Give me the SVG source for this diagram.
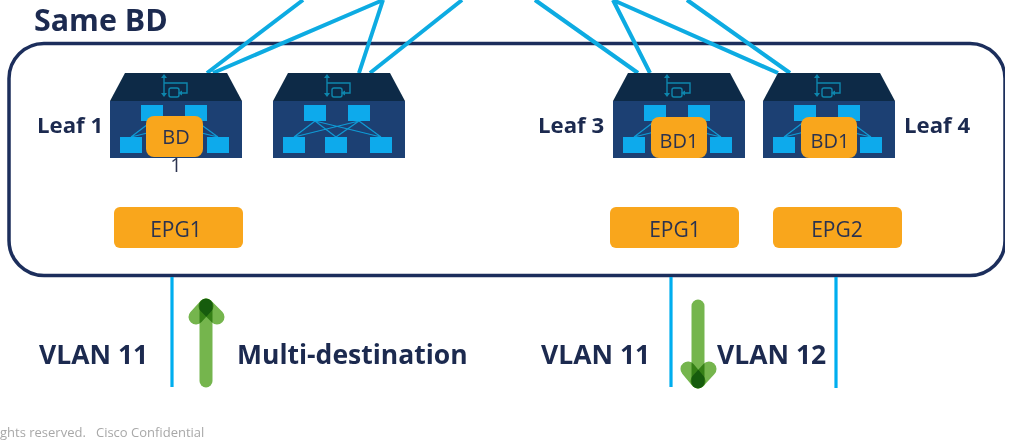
<svg xmlns="http://www.w3.org/2000/svg" width="1015" height="445" viewBox="0 0 1015 445">
<style>
text{font-family:"Open Sans","Liberation Sans",sans-serif}
.h{font-weight:700;fill:#1b2a50}
.o{fill:#f9a61b}
.ot{font-size:20px;fill:#2b3350;text-anchor:middle}
.et{font-size:21px;fill:#2b3350;text-anchor:middle}
.c{stroke:#0aabe2;stroke-width:4;fill:none}
.v{stroke:#00aeef;stroke-width:3.200;fill:none}
.g{stroke:#74b54e;stroke-width:13;stroke-linecap:round;fill:none;mix-blend-mode:multiply}
.a{stroke-width:15}
.sq{fill:#0aaaec}
.l{stroke:#0f9bd6;stroke-width:1.200;fill:none}
.i{stroke:#0f86ad;stroke-width:1.400;fill:none}
.ia{fill:#0f86ad}
</style>
<defs>
<g id="sw">
<path d="M15 0H117L132 28H0Z" fill="#0d2b47"/>
<rect y="28" width="132" height="57" fill="#1e3f73"/>
<path class="i" d="M54 3V22M54 10H77V20H72"/>
<path class="ia" d="M51 5L54 1L57 5ZM51 20L54 24L57 20ZM72 17.500L68 20L72 22.500Z"/>
<rect class="i" x="59" y="15" width="10" height="9" rx="2"/>
<path class="l" d="M42 48L21 64M42 48L63 64M42 48L108 64M86 48L21 64M86 48L63 64M86 48L108 64"/>
<rect class="sq" x="31" y="32" width="22" height="16"/>
<rect class="sq" x="75" y="32" width="22" height="16"/>
<rect class="sq" x="10" y="64" width="22" height="16"/>
<rect class="sq" x="52" y="64" width="22" height="16"/>
<rect class="sq" x="97" y="64" width="22" height="16"/>
</g>
<filter id="b" x="0" y="0" width="1" height="1" filterUnits="objectBoundingBox"><feGaussianBlur stdDeviation="0.6"/></filter>
</defs>
<rect width="1015" height="445" fill="#fff"/>
<g filter="url(#b)">
<g id="container"><rect x="9" y="43.500" width="996" height="232" rx="35" fill="none" stroke="#1c2f5c" stroke-width="3.500"/></g>
<g id="connectors">
<path class="c" d="M207 73L303 0M213 73L383 0M359 73L383 0M370 73L462 0M638 73L535 0M650 73L613 0M778 73L613 0M790 73L687 0"/>
<path class="v" d="M172 277V387M671 277V387M836 277V388"/>
</g>
<g id="leaf1"><use href="#sw" x="110" y="73"/><rect class="o" x="146" y="116" width="57" height="41" rx="8"/><text class="ot" x="176" y="144">BD</text><text class="ot" x="176" y="172">1</text><text class="h" x="37" y="133" font-size="22.200">Leaf 1</text></g>
<g id="leaf2"><use href="#sw" x="273" y="73"/></g>
<g id="leaf3"><use href="#sw" x="613" y="73"/><rect class="o" x="651" y="117" width="56" height="41" rx="8"/><text class="ot" x="679" y="148">BD1</text><text class="h" x="538" y="133" font-size="22.200">Leaf 3</text></g>
<g id="leaf4"><use href="#sw" x="763" y="73"/><rect class="o" x="801" y="117" width="56" height="41" rx="8"/><text class="ot" x="830" y="148">BD1</text><text class="h" x="904" y="133" font-size="22.200">Leaf 4</text></g>
<g id="epg1a"><rect class="o" x="114" y="207" width="129" height="41" rx="6"/><text class="et" x="176" y="237">EPG1</text></g>
<g id="epg1b"><rect class="o" x="610" y="207" width="129" height="41" rx="6"/><text class="et" x="675" y="237">EPG1</text></g>
<g id="epg2"><rect class="o" x="773" y="207" width="129" height="41" rx="6"/><text class="et" x="837" y="237">EPG2</text></g>
<g id="arrow-up"><path class="g" d="M206 381V305"/><path class="g a" d="M206 306L196 317"/><path class="g a" d="M206 306L217 317"/></g>
<g id="arrow-down"><path class="g" d="M698 306V382"/><path class="g a" d="M698 381L688 369"/><path class="g a" d="M698 381L709 369"/></g>
<g id="labels">
<text class="h" x="34" y="31" font-size="30.400">Same BD</text>
<text class="h" x="39" y="364" font-size="26.500">VLAN 11</text>
<text class="h" x="237" y="364" font-size="26.500">Multi-destination</text>
<text class="h" x="541" y="364" font-size="26.500">VLAN 11</text>
<text class="h" x="717" y="364" font-size="26.500">VLAN 12</text>
<text x="0" y="437" font-size="13" fill="#a8a8a8" xml:space="preserve">ghts reserved.   Cisco Confidential</text>
</g>
</g>
</svg>
